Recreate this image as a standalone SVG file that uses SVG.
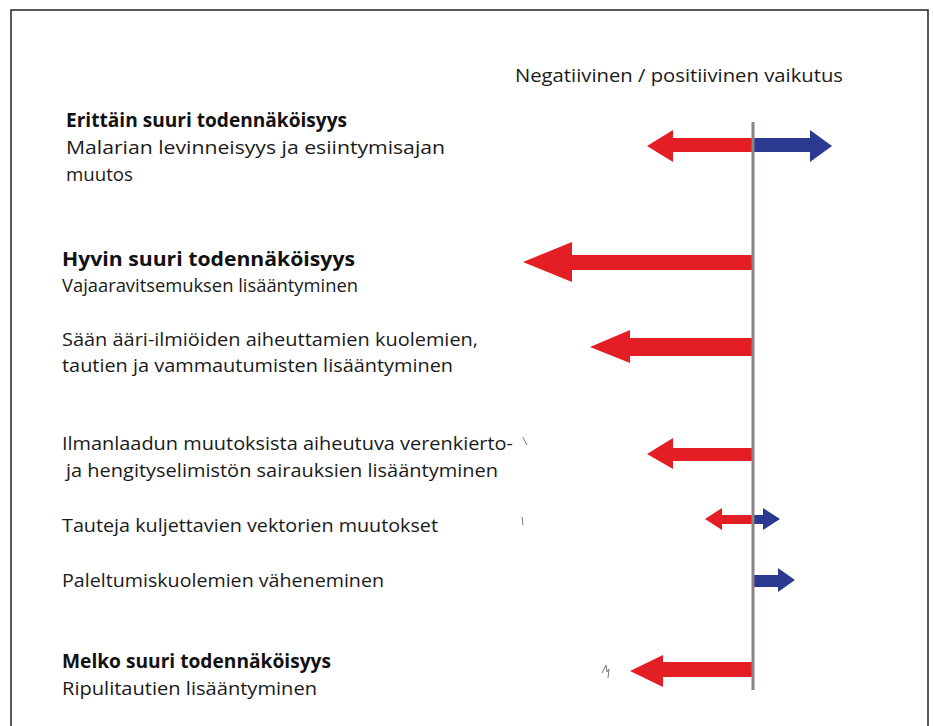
<svg xmlns="http://www.w3.org/2000/svg" width="933" height="726" viewBox="0 0 933 726">
<style>
  text { font-family: "Open Sans", "Liberation Sans", sans-serif; font-size: 19px; fill: #1a1a1a; }
  .b { font-weight: bold; fill: #111; }
  .red { fill: #e31e24; }
  .blue { fill: #2b3990; }
  .axis { stroke: #8a8486; stroke-width: 3; fill: none; }
  .frame { stroke: #222; stroke-width: 1.5; fill: none; }
  .mark { stroke: #777; stroke-width: 1; fill: none; }
</style>
<rect width="933" height="726" fill="#fff"/>
<path class="frame" d="M11,727 V10 H928 V727"/>
<text x="515" y="82" textLength="328" lengthAdjust="spacingAndGlyphs">Negatiivinen / positiivinen vaikutus</text>

<g id="n1">
  <text class="b" x="66" y="127" textLength="281" lengthAdjust="spacingAndGlyphs">Erittäin suuri todennäköisyys</text>
  <text x="66" y="154" textLength="379" lengthAdjust="spacingAndGlyphs">Malarian levinneisyys ja esiintymisajan</text>
  <text x="66" y="181" textLength="67" lengthAdjust="spacingAndGlyphs">muutos</text>
</g>
<g id="n2">
  <text class="b" x="62" y="266" textLength="293" lengthAdjust="spacingAndGlyphs">Hyvin suuri todennäköisyys</text>
  <text x="62" y="292" textLength="296" lengthAdjust="spacingAndGlyphs">Vajaaravitsemuksen lisääntyminen</text>
</g>
<g id="n3">
  <text x="62" y="346" textLength="416" lengthAdjust="spacingAndGlyphs">Sään ääri-ilmiöiden aiheuttamien kuolemien,</text>
  <text x="62" y="372" textLength="391" lengthAdjust="spacingAndGlyphs">tautien ja vammautumisten lisääntyminen</text>
</g>
<g id="n4">
  <text x="62" y="450" textLength="451" lengthAdjust="spacingAndGlyphs">Ilmanlaadun muutoksista aiheutuva verenkierto-</text>
  <text x="66" y="477" textLength="432" lengthAdjust="spacingAndGlyphs">ja hengityselimistön sairauksien lisääntyminen</text>
</g>
<g id="n5">
  <text x="62" y="532" textLength="376" lengthAdjust="spacingAndGlyphs">Tauteja kuljettavien vektorien muutokset</text>
</g>
<g id="n6">
  <text x="62" y="587" textLength="322" lengthAdjust="spacingAndGlyphs">Paleltumiskuolemien väheneminen</text>
</g>
<g id="n7">
  <text class="b" x="62" y="668" textLength="269" lengthAdjust="spacingAndGlyphs">Melko suuri todennäköisyys</text>
  <text x="62" y="695" textLength="255" lengthAdjust="spacingAndGlyphs">Ripulitautien lisääntyminen</text>
</g>

<g id="connectors">
  <polygon class="red" points="753,138 673,138 673,130 647,146 673,162 673,152 753,152"/>
  <polygon class="blue" points="753,138 810,138 810,130 832,146 810,162 810,152 753,152"/>
  <polygon class="red" points="753,255 572,255 572,242 523,262 572,282 572,270 753,270"/>
  <polygon class="red" points="753,338 630,338 630,330 590,347 630,363 630,356 753,356"/>
  <polygon class="red" points="753,448 673,448 673,438 647,454 673,469 673,461 753,461"/>
  <polygon class="red" points="753,515 722,515 722,508 705,519 722,530 722,524 753,524"/>
  <polygon class="blue" points="753,515 763,515 763,508 780,519 763,530 763,524 753,524"/>
  <polygon class="blue" points="753,575 778,575 778,568 795,580 778,592 778,587 753,587"/>
  <polygon class="red" points="753,662 663,662 663,655 630,671 663,687 663,677 753,677"/>
  <line class="axis" x1="753" y1="122" x2="753" y2="690"/>
  <path class="mark" d="M523,437 Q525,442 527,445"/>
  <path class="mark" d="M522,517 L523,525"/>
  <path class="mark" d="M602,673 L606,665 L607,672 L609,669 L608,678"/>
</g>
</svg>
